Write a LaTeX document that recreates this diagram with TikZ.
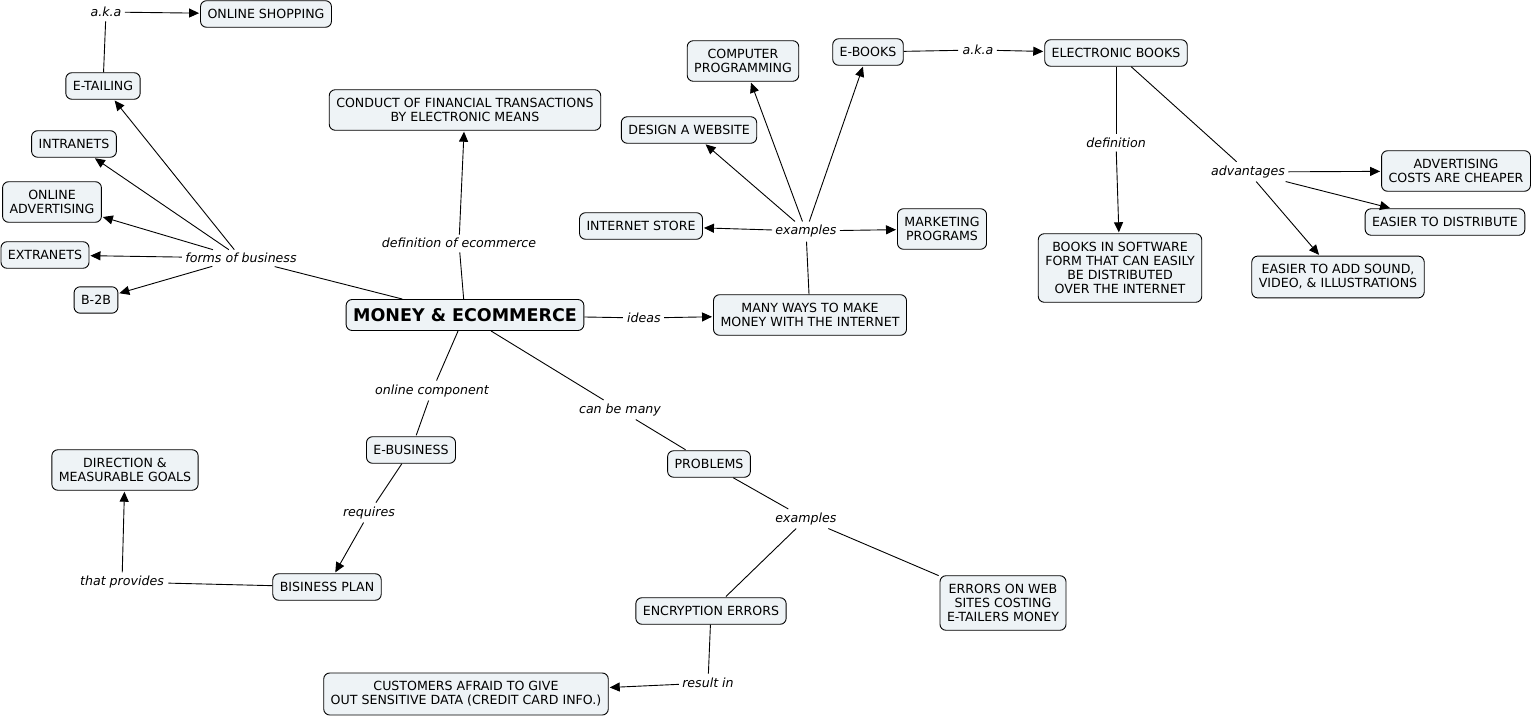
\documentclass[tikz,border=0pt]{standalone}
\usepackage{fontspec}
\setmainfont{DejaVu Sans}
\usepackage{tikz}
\usetikzlibrary{arrows.meta}
\definecolor{boxfill}{RGB}{238,243,246}

\begin{document}
\begin{tikzpicture}[x=1pt,y=-1pt,line width=0.9pt,shorten >=1pt,>={Triangle[length=10pt,width=9pt]}]
		\tikzstyle{concept}=[draw,rounded corners=6pt,fill=boxfill,align=center,inner xsep=7pt,inner ysep=8.5pt,minimum height=26pt,font=\fontsize{12.6}{14}\selectfont]
		\tikzstyle{link}=[inner sep=3pt,font=\fontsize{12.6}{14}\selectfont\itshape]
		\useasboundingbox (0,0) rectangle (1532,719);
		
		\node[concept](shop) at (266,14){ONLINE SHOPPING};
		\node[link](aka1) at (106,12){a.k.a};
		\node[concept](etail) at (103,86){E-TAILING};
		\node[concept](intra) at (74,144){INTRANETS};
		\node[concept](adv) at (52,202){ONLINE\\ADVERTISING};
		\node[concept](extra) at (45,255){EXTRANETS};
		\node[concept](b2b) at (96,300){B-2B};
		\node[link](forms) at (241,258){forms of business};
		
		\node[concept](conduct) at (465,110){CONDUCT OF FINANCIAL TRANSACTIONS\\BY ELECTRONIC MEANS};
		\node[link](defecom) at (459,243){definition of ecommerce};
		\node[concept,minimum height=31pt,inner ysep=6pt,font=\fontsize{17.5}{20}\selectfont\bfseries](money) at (465,315){MONEY \& ECOMMERCE};
		\node[link](ideas) at (644,318){ideas};
		
		\node[concept](ways) at (810,315){MANY WAYS TO MAKE\\MONEY WITH THE INTERNET};
		\node[link](ex1) at (806,231){examples};
		\node[concept](store) at (641,226){INTERNET STORE};
		\node[concept](design) at (689,130){DESIGN A WEBSITE};
		\node[concept](comp) at (743,61){COMPUTER\\PROGRAMMING};
		\node[concept](ebooks) at (868,52){E-BOOKS};
		\node[concept](market) at (942,229){MARKETING\\PROGRAMS};
		
		\node[link](aka2) at (978,50){a.k.a};
		\node[concept](ebk) at (1116,53){ELECTRONIC BOOKS};
		\node[link](defin) at (1116,143){definition};
		\node[concept](soft) at (1120,268){BOOKS IN SOFTWARE\\FORM THAT CAN EASILY\\BE DISTRIBUTED\\OVER THE INTERNET};
		\node[link](advant) at (1248,172){advantages};
		\node[concept](cheap) at (1456,171){ADVERTISING\\COSTS ARE CHEAPER};
		\node[concept](distr) at (1445,222){EASIER TO DISTRIBUTE};
		\node[concept](sound) at (1338,277){EASIER TO ADD SOUND,\\VIDEO, \& ILLUSTRATIONS};
		
		\node[link](online) at (432,391){online component};
		\node[concept](ebus) at (411,450){E-BUSINESS};
		\node[link](req) at (369,513){requires};
		\node[concept](plan) at (327,587){BISINESS PLAN};
		\node[link](prov) at (122,582){that provides};
		\node[concept](goals) at (125,470){DIRECTION \&\\MEASURABLE GOALS};
		
		\node[link](many) at (620,410){can be many};
		\node[concept](prob) at (709,464){PROBLEMS};
		\node[link](ex2) at (806,519){examples};
		\node[concept](encr) at (711,611){ENCRYPTION ERRORS};
		\node[concept](errors) at (1003,603){ERRORS ON WEB\\SITES COSTING\\E-TAILERS MONEY};
		\node[link](result) at (708,683){result in};
		\node[concept](cust) at (466,694){CUSTOMERS AFRAID TO GIVE\\OUT SENSITIVE DATA (CREDIT CARD INFO.)};
		
		\draw (etail) -- (aka1);
		\draw[->] (aka1) -- (shop);
		\draw (money) -- (forms);
		\draw[->] (forms) -- (etail);
		\draw[->] (forms) -- (intra);
		\draw[->] (forms) -- (adv);
		\draw[->] (forms) -- (extra);
		\draw[->] (forms) -- (b2b);
		
		\draw (money) -- (defecom);
		\draw[->] (defecom) -- (conduct);
		\draw (money) -- (ideas);
		\draw[->] (ideas) -- (ways);
		
		\draw (ways) -- (ex1);
		\draw[->] (ex1) -- (store);
		\draw[->] (ex1) -- (design);
		\draw[->] (ex1) -- (comp);
		\draw[->] (ex1) -- (ebooks);
		\draw[->] (ex1) -- (market);
		
		\draw (ebooks) -- (aka2);
		\draw[->] (aka2) -- (ebk);
		\draw (ebk) -- (defin);
		\draw[->] (defin) -- (soft);
		\draw (ebk) -- (advant);
		\draw[->] (advant) -- (cheap);
		\draw[->] (advant) -- (distr);
		\draw[->] (advant) -- (sound);
		
		\draw (money) -- (online);
		\draw (online) -- (ebus);
		\draw (ebus) -- (req);
		\draw[->] (req) -- (plan);
		\draw (plan) -- (prov);
		\draw[->] (prov) -- (goals);
		
		\draw (money) -- (many);
		\draw (many) -- (prob);
		\draw (prob) -- (ex2);
		\draw (ex2) -- (encr);
		\draw (ex2) -- (errors);
		\draw (encr) -- (result);
		\draw[->] (result) -- (cust);
\end{tikzpicture}
\end{document}
